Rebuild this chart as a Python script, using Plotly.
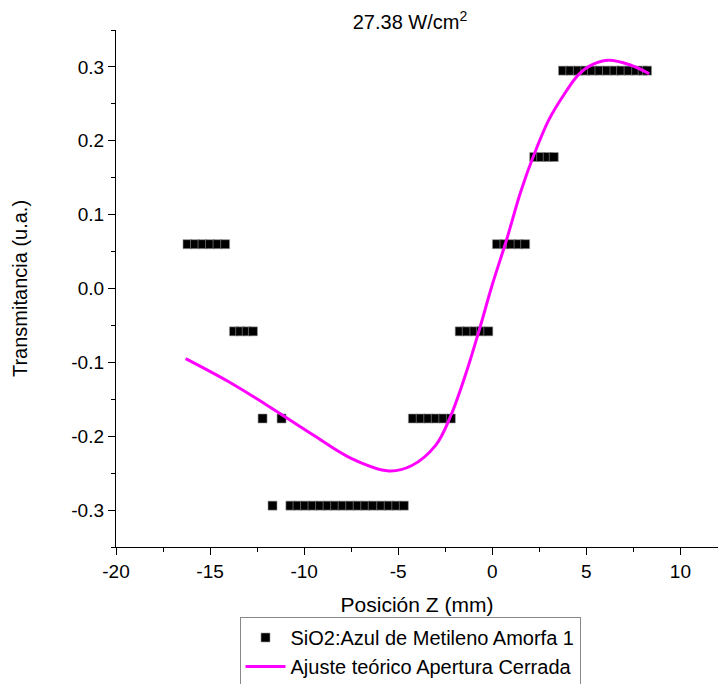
import plotly.graph_objects as go

# Measured Z-scan samples (position in mm, normalised transmittance)
z_meas = [
    -16.2, -15.8, -15.4, -15.0, -14.6, -14.2,
    -13.73, -13.4, -13.05, -12.72,
    -12.21, -11.2,
    -11.68,
    -10.73, -10.35, -9.95, -9.55, -9.15, -8.75, -8.35, -7.95,
    -7.55, -7.15, -6.75, -6.35, -5.9, -5.5, -5.1, -4.70,
    -4.22, -3.8, -3.4, -3.0, -2.6, -2.2,
    -1.73, -1.35, -0.95, -0.6, -0.21,
    0.25, 0.65, 1.0, 1.4, 1.75,
    2.23, 2.6, 2.95, 3.27,
    3.76, 4.15, 4.55, 4.95, 5.3, 5.7, 6.1, 6.5, 6.85, 7.25, 7.65, 8.0, 8.23,
]
t_meas = [
    0.060, 0.060, 0.060, 0.060, 0.060, 0.060,
    -0.058, -0.058, -0.058, -0.058,
    -0.176, -0.176,
    -0.294,
    -0.294, -0.294, -0.294, -0.294, -0.294, -0.294, -0.294, -0.294,
    -0.294, -0.294, -0.294, -0.294, -0.294, -0.294, -0.294, -0.294,
    -0.176, -0.176, -0.176, -0.176, -0.176, -0.176,
    -0.058, -0.058, -0.058, -0.058, -0.058,
    0.060, 0.060, 0.060, 0.060, 0.060,
    0.178, 0.178, 0.178, 0.178,
    0.295, 0.295, 0.295, 0.295, 0.295, 0.295, 0.295, 0.295, 0.295, 0.295, 0.295, 0.295, 0.295,
]

# Closed-aperture theoretical fit, sampled along the curve
z_fit = [-16.3, -14.1, -12.1, -9.6, -7.5, -5.5, -4.3, -3.0, -2.2, -1.4,
         -0.7, 0.0, 0.75, 1.5, 2.2, 3.0, 3.8, 4.6, 5.4, 6.2, 7.3, 8.34]
t_fit = [-0.095, -0.125, -0.156, -0.197, -0.230, -0.247, -0.240, -0.212, -0.172, -0.115,
         -0.057, 0.005, 0.065, 0.130, 0.180, 0.228, 0.262, 0.290, 0.304, 0.309, 0.303, 0.291]

y_ticks = [-0.3, -0.2, -0.1, 0.0, 0.1, 0.2, 0.3]
y_tick_text = ["-0.3", "-0.2", "-0.1", "0.0", "0.1", "0.2", "0.3"]
x_ticks = [-20, -15, -10, -5, 0, 5, 10]
x_tick_text = ["-20", "-15", "-10", "-5", "0", "5", "10"]

FONT = "Liberation Sans, Arial, sans-serif"

fig = go.Figure()
fig.add_trace(go.Scatter(
    x=z_meas, y=t_meas, mode="markers",
    name="SiO2:Azul de Metileno Amorfa 1",
    marker=dict(symbol="square", size=9, color="black",
                line=dict(color="#9a9a9a", width=0.6)),
))
fig.add_trace(go.Scatter(
    x=z_fit, y=t_fit, mode="lines", line_shape="spline",
    name="Ajuste teórico Apertura Cerrada",
    line=dict(color="#ff00ff", width=3),
))

axis_common = dict(
    showgrid=False, zeroline=False, showline=True, linecolor="black",
    linewidth=1.3, ticks="outside", ticklen=7, tickwidth=1.3, tickcolor="black",
    tickfont=dict(family=FONT, size=19, color="black"),
    mirror=False,
)

fig.update_layout(
    width=719, height=684,
    margin=dict(l=116, r=1, t=30, b=137, autoexpand=False),
    paper_bgcolor="white", plot_bgcolor="white",
    font=dict(family=FONT, color="black"),
    title=dict(text="27.38 W/cm<sup>2</sup>", x=410 / 719, xanchor="center",
               y=1 - 22 / 684, yanchor="middle",
               font=dict(family=FONT, size=20, color="black")),
    xaxis=dict(
        range=[-20, 12], tickmode="array", tickvals=x_ticks, ticktext=x_tick_text,
        minor=dict(tickmode="linear", tick0=0, dtick=2.5, ticks="outside",
                   ticklen=4, tickwidth=1.3, tickcolor="black"),
        title=dict(text="Posición Z (mm)", font=dict(family=FONT, size=21), standoff=16),
        **axis_common,
    ),
    yaxis=dict(
        range=[-0.35, 0.35], tickmode="array", tickvals=y_ticks, ticktext=y_tick_text,
        minor=dict(tickmode="linear", tick0=0, dtick=0.05, ticks="outside",
                   ticklen=4, tickwidth=1.3, tickcolor="black"),
        title=dict(text="Transmitancia (u.a.)", font=dict(family=FONT, size=20), standoff=38),
        **axis_common,
    ),
    legend=dict(
        x=410 / 719, xref="container", y=1 - 617 / 684, yref="container",
        xanchor="center", yanchor="top",
        bordercolor="#888888", borderwidth=1, bgcolor="white",
        font=dict(family=FONT, size=20, color="black"),
        tracegroupgap=0, itemwidth=40,
    ),
    showlegend=True,
)

fig.write_html("out.html")
